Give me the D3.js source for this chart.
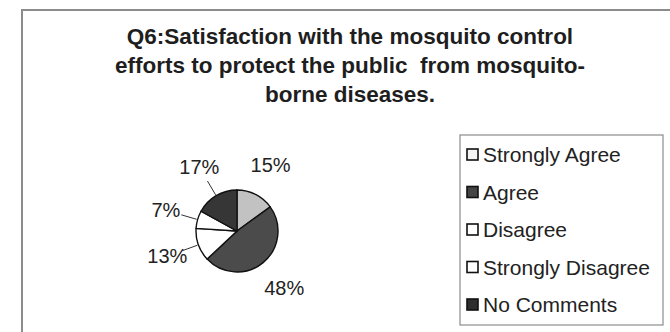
<!DOCTYPE html>
<html>
<head>
<meta charset="utf-8">
<script src="https://cdn.jsdelivr.net/npm/d3@7"></script>
<style>
  body { margin: 0; background: #fff; }
  svg { font-family: "Liberation Sans", Arial, sans-serif; }
  .title { white-space: pre; }
</style>
</head>
<body>
<div id="chart"></div>
<script>
const titleLines = [
  "Q6:Satisfaction with the mosquito control",
  "efforts to protect the public  from mosquito-",
  "borne diseases."
];
const categories = ["Strongly Agree", "Agree", "Disagree", "Strongly Disagree", "No Comments"];
const values = [15, 48, 13, 7, 17];
const sliceColors = ["#c2c2c2", "#4b4b4b", "#ffffff", "#ffffff", "#363636"];
const legendColors = ["#f4f4f4", "#444444", "#ffffff", "#ffffff", "#2e2e2e"];
const withLeader = [false, false, true, true, true];

const width = 670, height = 332;
const cx = 237, cy = 231, r = 41;

const svg = d3.select("#chart")
  .append("svg")
  .attr("width", width)
  .attr("height", height);

// outer frame (runs off the right and bottom edges)
svg.append("rect")
  .attr("x", 22).attr("y", 10)
  .attr("width", 720).attr("height", 400)
  .attr("fill", "#fff")
  .attr("stroke", "#8c8c8c")
  .attr("stroke-width", 2);

svg.append("g")
  .selectAll("text")
  .data(titleLines)
  .enter().append("text")
  .attr("class", "title")
  .attr("x", 350)
  .attr("y", (d, i) => 44 + i * 29)
  .attr("text-anchor", "middle")
  .attr("font-size", 22.5)
  .attr("font-weight", "bold")
  .attr("fill", "#1e1e1e")
  .text(d => d);

const data = categories.map((c, i) => ({ name: c, value: values[i] }));
const pie = d3.pie().value(d => d.value).sort(null);
const arcs = pie(data);

const arc = d3.arc().innerRadius(0).outerRadius(r);
const labelArc = d3.arc().innerRadius(74).outerRadius(74);
const lineIn = d3.arc().innerRadius(r + 1).outerRadius(r + 1);
const lineOut = d3.arc().innerRadius(58).outerRadius(58);

const g = svg.append("g").attr("transform", `translate(${cx},${cy})`);

g.selectAll("path.slice")
  .data(arcs)
  .enter().append("path")
  .attr("class", "slice")
  .attr("d", arc)
  .attr("fill", (d, i) => sliceColors[i])
  .attr("stroke", "#111")
  .attr("stroke-width", 1.4);

g.selectAll("line.leader")
  .data(arcs.filter((d, i) => withLeader[i]))
  .enter().append("line")
  .attr("class", "leader")
  .attr("x1", d => lineIn.centroid(d)[0])
  .attr("y1", d => lineIn.centroid(d)[1])
  .attr("x2", d => lineOut.centroid(d)[0])
  .attr("y2", d => lineOut.centroid(d)[1])
  .attr("stroke", "#333")
  .attr("stroke-width", 1);

g.selectAll("text.pct")
  .data(arcs)
  .enter().append("text")
  .attr("class", "pct")
  .attr("x", d => labelArc.centroid(d)[0])
  .attr("y", d => labelArc.centroid(d)[1] + 7)
  .attr("text-anchor", "middle")
  .attr("font-size", 20)
  .attr("fill", "#222")
  .text(d => d.data.value + "%");

// legend
const legend = svg.append("g");
legend.append("rect")
  .attr("x", 460).attr("y", 135)
  .attr("width", 203).attr("height", 190)
  .attr("fill", "#fff")
  .attr("stroke", "#8c8c8c")
  .attr("stroke-width", 1.2);

const item = legend.selectAll("g.item")
  .data(categories)
  .enter().append("g")
  .attr("class", "item")
  .attr("transform", (d, i) => `translate(467,${155 + i * 37.5})`);

item.append("rect")
  .attr("x", 0).attr("y", -6)
  .attr("width", 11).attr("height", 11)
  .attr("fill", (d, i) => legendColors[i])
  .attr("stroke", "#111")
  .attr("stroke-width", 1.6);

item.append("text")
  .attr("x", 16)
  .attr("y", 7)
  .attr("font-size", 21)
  .attr("fill", "#222")
  .text(d => d);
</script>
</body>
</html>
